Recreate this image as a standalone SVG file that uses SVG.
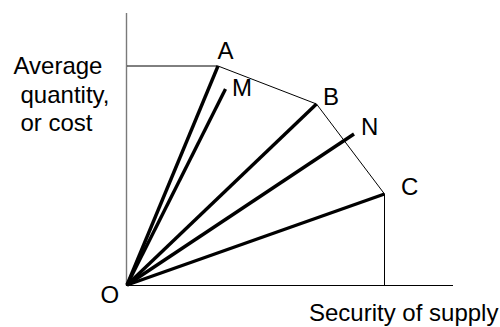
<svg xmlns="http://www.w3.org/2000/svg" width="500" height="327" viewBox="0 0 500 327">
<style>
.t{font-family:"Liberation Sans",Arial,sans-serif;font-size:24px;fill:#000}
.thin{stroke:#000;stroke-width:1;fill:none}
.ray{stroke:#000;stroke-width:3.4;stroke-linecap:butt;fill:none}
</style>
<rect width="500" height="327" fill="#fff"/>
<g id="axes">
<line x1="126.5" y1="13" x2="126.5" y2="286" stroke="#7a7a7a" stroke-width="1.4"/>
<line class="thin" x1="126" y1="285.5" x2="453" y2="285.5"/>
</g>
<g id="connectors">
<polyline class="thin" points="127,66 218,66 316.5,104 384.5,194 384.5,285.5"/>
<line class="ray" x1="127" y1="285" x2="218" y2="66"/>
<line class="ray" x1="127" y1="285" x2="225.5" y2="89"/>
<line class="ray" x1="127" y1="285" x2="316.5" y2="104"/>
<line class="ray" x1="127" y1="285" x2="354" y2="134"/>
<line class="ray" x1="127" y1="285" x2="384.5" y2="194"/>
</g>
<g id="labels">
<text class="t" x="13.5" y="73.5">Average</text>
<text class="t" x="20.5" y="103">quantity,</text>
<text class="t" x="20.5" y="130.5">or cost</text>
<text class="t" x="309" y="321">Security of supply</text>
<text class="t" x="100.5" y="303">O</text>
<text class="t" x="217.5" y="58.5">A</text>
<text class="t" x="232" y="95.5">M</text>
<text class="t" x="323" y="105">B</text>
<text class="t" x="361" y="135">N</text>
<text class="t" x="401" y="195">C</text>
</g>
</svg>
